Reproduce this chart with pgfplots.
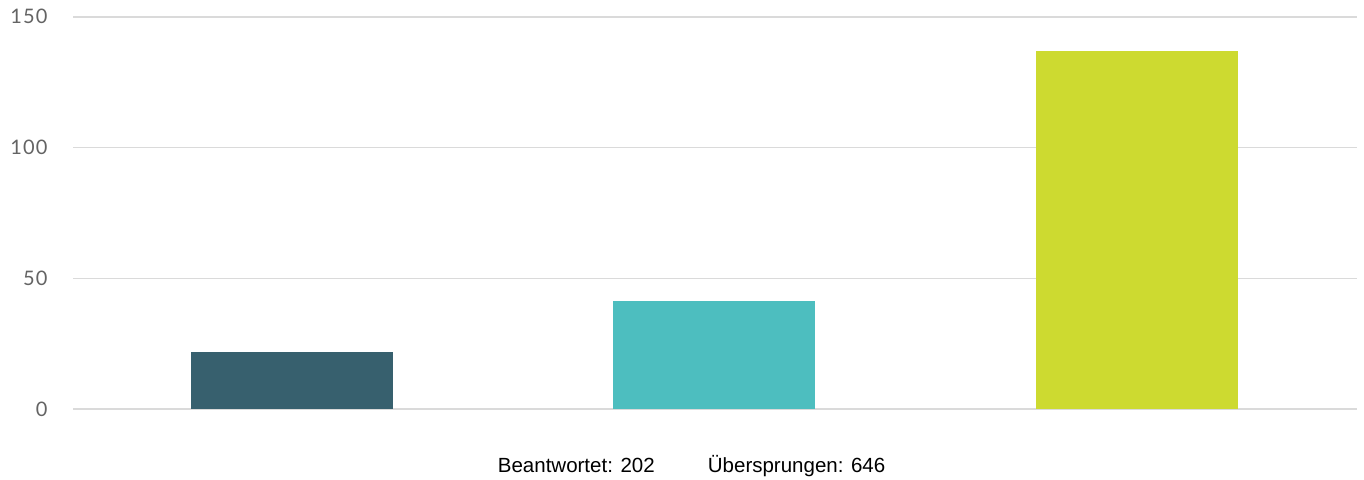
\documentclass[border=0pt]{standalone}
\usepackage{pgfplots}
\pgfplotsset{compat=1.18}
\usepackage{fontspec}
\setmainfont{Liberation Sans}
\newfontfamily\tickfont[LetterSpace=6]{Lato}
\definecolor{barA}{RGB}{55,96,110}
\definecolor{barB}{RGB}{77,190,191}
\definecolor{barC}{RGB}{205,218,48}
\definecolor{gridc}{RGB}{218,218,218}
\definecolor{tickc}{RGB}{100,100,100}
\begin{document}
\begin{tikzpicture}
\useasboundingbox (-73.3pt,-69.7pt) rectangle (1290.7pt,409.3pt);
\begin{axis}[
  at={(0pt,0pt)}, anchor=south west,
  scale only axis,
  width=1283.4pt, height=392.6pt,
  xmin=-0.518, xmax=2.521,
  ymin=0, ymax=150,
  ytick={0,50,100,150},
  xtick=\empty,
  axis line style={draw=none},
  major tick length=0pt,
  ymajorgrids,
  major grid style={draw=gridc, line width=1.8pt},
  /pgf/number format/assume math mode=true,
  yticklabel style={font=\tickfont\fontsize{20}{24}\selectfont, text=tickc, inner sep=0pt, anchor=east, xshift=-25.5pt},
  ybar, bar width=0.478, bar shift=0pt,
  clip=false,
]
\addplot[fill=barA, draw=none] coordinates {(0,22)};
\addplot[fill=barB, draw=none] coordinates {(1,41.4)};
\addplot[fill=barC, draw=none] coordinates {(2,137)};
\end{axis}
\node[anchor=base west, inner sep=0pt, font=\fontsize{20.5}{24}\selectfont] at (424.4pt,-63pt) {Beantwortet: 202};
\node[anchor=base west, inner sep=0pt, font=\fontsize{20.5}{24}\selectfont] at (634.4pt,-63pt) {Übersprungen: 646};
\end{tikzpicture}
\end{document}
